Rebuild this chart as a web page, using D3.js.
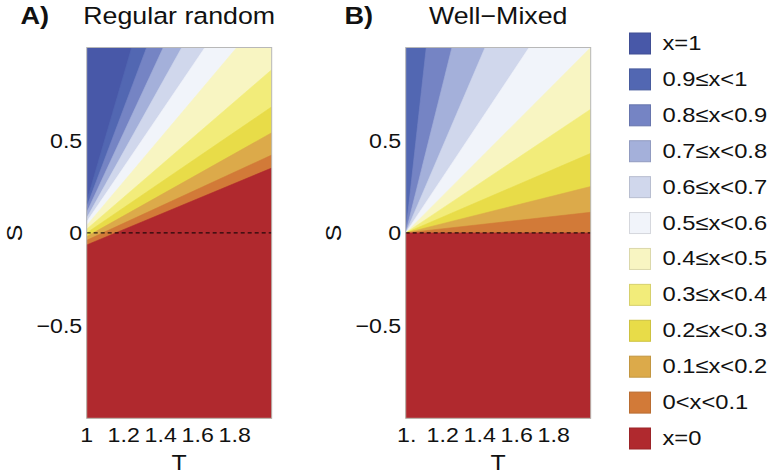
<!DOCTYPE html>
<html><head><meta charset="utf-8">
<script src="https://cdn.jsdelivr.net/npm/d3@7"></script>
<style>body{margin:0;background:#fff}</style></head>
<body>
<svg id="c" width="771" height="476"></svg>
<script>
// ---- data ----
const levels = ["x=1","0.9≤x<1","0.8≤x<0.9","0.7≤x<0.8","0.6≤x<0.7","0.5≤x<0.6",
                "0.4≤x<0.5","0.3≤x<0.4","0.2≤x<0.3","0.1≤x<0.2","0<x<0.1","x=0"];
const colors = ["#4858a8","#5267b2","#7584c4","#a4b0da","#d0d7ec","#f1f4fa",
                "#f8f5c2","#f2ec7a","#e8dc48","#dcaa4a","#d27a38","#b0292e"];
const panelTitles = ["Regular random","Well\u2212Mixed"];
const panelTags = ["A)","B)"];
const tTicks = [1,1.2,1.4,1.6,1.8];
const tTickLabelsA = ["1","1.2","1.4","1.6","1.8"];
const tTickLabelsB = ["1.","1.2","1.4","1.6","1.8"];
const sTicks = [-0.5,0,0.5];
const sTickLabels = ["\u22120.5","0","0.5"];
// boundary k separates level k (above/left) from level k+1 (below/right); points (T,S)
const boundA = [
  [[1,0.17],[1.243,1]],
  [[1,0.14],[1.324,1]],
  [[1,0.11],[1.414,1]],
  [[1,0.08],[1.514,1]],
  [[1,0.06],[1.639,1]],
  [[1,0.04],[1.811,1]],
  [[1,0.02],[2,0.88]],
  [[1,0.00],[2,0.68]],
  [[1,-0.02],[2,0.54]],
  [[1,-0.04],[2,0.42]],
  [[1,-0.065],[2,0.35]]
];
const boundB = [
  [[1,0],[1,1]],
  [[1,0],[1.111,1]],
  [[1,0],[1.25,1]],
  [[1,0],[1.429,1]],
  [[1,0],[1.667,1]],
  [[1,0],[2,1]],
  [[1,0],[2,0.667]],
  [[1,0],[2,0.429]],
  [[1,0],[2,0.25]],
  [[1,0],[2,0.111]],
  [[1,0],[2,0]]
];

// ---- drawing ----
const svg = d3.select("#c");
const FONT = "'Liberation Sans', Arial, Helvetica, sans-serif";
const SX = 1.13;
function txt(g, x, y, s, size, anchor="start", weight="normal", rot=0) {
  const t = g.append("g").attr("transform", `translate(${x},${y}) rotate(${rot}) scale(${SX},1)`);
  t.append("text").attr("font-family", FONT).attr("font-size", size)
    .attr("font-weight", weight).attr("text-anchor", anchor).attr("fill", "#111").text(s);
}

const plotTop = 47.5, plotBottom = 418.3;
const panelsCfg = [
  {left: 86.7, right: 271.7, bounds: boundA, ticks: tTickLabelsA, tagX: 20.5, sX: 22},
  {left: 405.7, right: 590.7, bounds: boundB, ticks: tTickLabelsB, tagX: 344.5, sX: 341}
];

panelsCfg.forEach((p, i) => {
  const x = d3.scaleLinear().domain([1,2]).range([p.left, p.right]);
  const y = d3.scaleLinear().domain([-1,1]).range([plotBottom, plotTop]);
  const g = svg.append("g");
  const clipId = "clip" + i;
  svg.append("clipPath").attr("id", clipId).append("rect")
    .attr("x", x(1)).attr("y", y(1)).attr("width", x(2)-x(1)).attr("height", y(-1)-y(1));
  const area = g.append("g").attr("clip-path", `url(#${clipId})`);
  area.append("rect").attr("x", x(1)).attr("y", y(1))
    .attr("width", x(2)-x(1)).attr("height", y(-1)-y(1)).attr("fill", colors[0]);
  const line = d3.line().x(d => x(d[0])).y(d => y(d[1]));
  p.bounds.forEach((b, k) => {
    const pts = b.slice();
    const last = pts[pts.length-1];
    if (last[1] >= 1 && last[0] < 2) pts.push([2,1]);
    pts.push([2,-1]); pts.push([1,-1]);
    area.append("path").attr("d", line(pts) + "Z").attr("fill", colors[k+1])
      .attr("stroke", colors[k+1]).attr("stroke-width", 0.6);
  });
  // dashed zero line
  g.append("line").attr("x1", x(1)).attr("x2", x(2)).attr("y1", y(0)).attr("y2", y(0))
    .attr("stroke", "#000").attr("stroke-width", 1).attr("stroke-dasharray", "4,3");
  // frame
  g.append("rect").attr("x", x(1)).attr("y", y(1)).attr("width", x(2)-x(1))
    .attr("height", y(-1)-y(1)).attr("fill", "none").attr("stroke", "#b8b8b8").attr("stroke-width", 1);
  // ticks
  tTicks.forEach((t, j) => txt(g, x(t) + (p.ticks[j] === "1." ? 1 : 0), 441.5, p.ticks[j], 20.5, "middle"));
  sTicks.forEach((s, j) => txt(g, x(1) - 4.5, y(s) + 7.3, sTickLabels[j], 20.5, "end"));
  // axis labels
  txt(g, (x(1)+x(2))/2, 470, "T", 22, "middle");
  txt(g, p.sX, y(0), "S", 22, "middle", "normal", -90);
  // titles
  txt(g, p.tagX, 24, panelTags[i], 24, "start", "bold");
  txt(g, (x(1)+x(2))/2, 24, panelTitles[i], 23.7, "middle");
});

// legend
const leg = svg.append("g");
const rowY = d3.scaleLinear().domain([0, levels.length-1]).range([43.5, 438.5]);
levels.forEach((l, k) => {
  leg.append("rect").attr("x", 629.5).attr("y", rowY(k) - 10.5).attr("width", 21).attr("height", 21)
    .attr("fill", colors[k]).attr("stroke", d3.color(colors[k]).darker(0.35)).attr("stroke-width", 1);
  txt(leg, 662.5, rowY(k) + 6.5, l, 21, "start");
});
</script>
</body></html>
